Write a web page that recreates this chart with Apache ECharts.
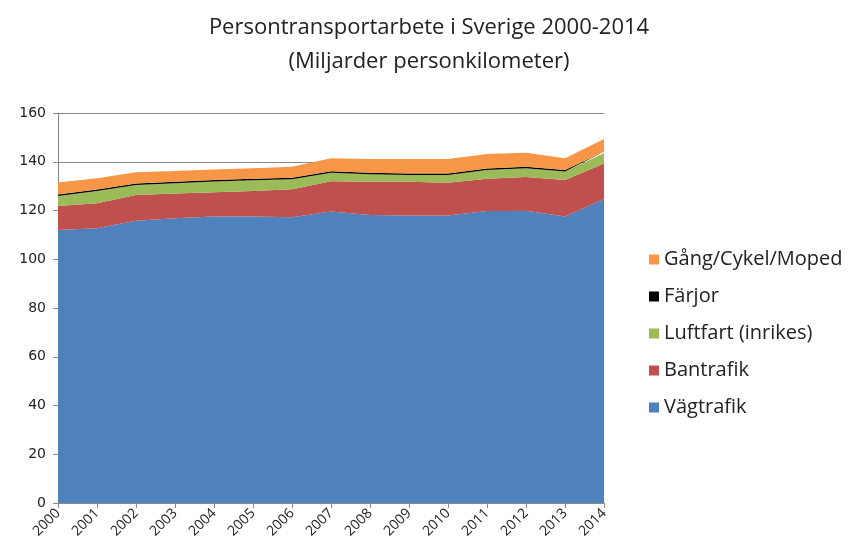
<!DOCTYPE html>
<html>
<head>
<meta charset="utf-8">
<script src="https://cdn.jsdelivr.net/npm/echarts@6/dist/echarts.min.js"></script>
<style>
    html, body { margin: 0; padding: 0; background: #fff; }
    #chart { width: 858px; height: 555px; }
</style>
</head>
<body>
<div id="chart"></div>
<script>
var years = ["2000","2001","2002","2003","2004","2005","2006","2007","2008","2009","2010","2011","2012","2013","2014"];

// miljarder personkilometer
var vagtrafik = [112.0, 112.7, 115.8, 116.8, 117.5, 117.5, 117.2, 119.6, 118.2, 117.9, 117.9, 119.8, 119.9, 117.5, 124.7];
var bantrafik = [9.8, 10.3, 10.6, 10.2, 10.0, 10.5, 11.5, 12.4, 13.6, 13.9, 13.5, 13.2, 13.8, 15.0, 14.6];
var luftfart = [4.2, 5.0, 4.1, 4.2, 4.4, 4.4, 4.1, 3.5, 3.1, 2.8, 3.2, 3.6, 3.6, 3.5, 4.2];
var farjor = [0.6, 0.6, 0.6, 0.6, 0.6, 0.6, 0.6, 0.6, 0.6, 0.6, 0.6, 0.6, 0.6, 0.6, 0.6];
var gang = [4.9, 4.6, 4.6, 4.4, 4.3, 4.3, 4.6, 5.3, 5.6, 5.9, 5.9, 6.0, 5.8, 4.8, 5.2];

var yTicks = [0, 20, 40, 60, 80, 100, 120, 140, 160];

var chart = echarts.init(document.getElementById('chart'));

function areaSeries(name, data, color) {
    return {
        name: name,
        type: 'line',
        stack: 'total',
        data: data,
        symbol: 'none',
        lineStyle: { width: 0 },
        areaStyle: { color: color, opacity: 1 },
        itemStyle: { color: color }
    };
}

var option = {
    animation: false,
    backgroundColor: '#fff',
    textStyle: { fontFamily: '"Open Sans", "DejaVu Sans", sans-serif' },
    title: {
        text: 'Persontransportarbete i Sverige 2000-2014\n(Miljarder personkilometer)',
        left: 'center',
        top: 6,
        textStyle: { fontSize: 22, fontWeight: 'normal', color: '#222', lineHeight: 34 }
    },
    legend: {
        orient: 'vertical',
        left: 644,
        top: 243,
        itemWidth: 10,
        itemHeight: 10,
        itemGap: 14,
        icon: 'rect',
        textStyle: { fontSize: 20, color: '#222', lineHeight: 23 },
        data: ['Gång/Cykel/Moped', 'Färjor', 'Luftfart (inrikes)', 'Bantrafik', 'Vägtrafik']
    },
    grid: { left: 58, right: 254, top: 113, bottom: 52 },
    xAxis: {
        type: 'category',
        data: years,
        boundaryGap: false,
        axisLine: { lineStyle: { color: '#888' } },
        axisTick: { show: true, alignWithLabel: true, length: 5, lineStyle: { color: '#888' } },
        axisLabel: { rotate: 45, fontSize: 14, color: '#222', margin: 8 }
    },
    yAxis: {
        type: 'value',
        min: yTicks[0],
        max: yTicks[yTicks.length - 1],
        interval: 20,
        axisLine: { show: true, lineStyle: { color: '#888' } },
        axisTick: { show: true, length: 5, lineStyle: { color: '#888' } },
        axisLabel: { fontSize: 14, color: '#222', margin: 12, fontFamily: '"DejaVu Sans", sans-serif' },
        splitLine: { lineStyle: { color: '#888' } }
    },
    series: [
        areaSeries('Vägtrafik', vagtrafik, '#4F81BD'),
        areaSeries('Bantrafik', bantrafik, '#C0504D'),
        areaSeries('Luftfart (inrikes)', luftfart, '#9BBB59'),
        areaSeries('Färjor', farjor, '#000000'),
        areaSeries('Gång/Cykel/Moped', gang, '#F79646')
    ]
};

chart.setOption(option);
</script>
</body>
</html>
